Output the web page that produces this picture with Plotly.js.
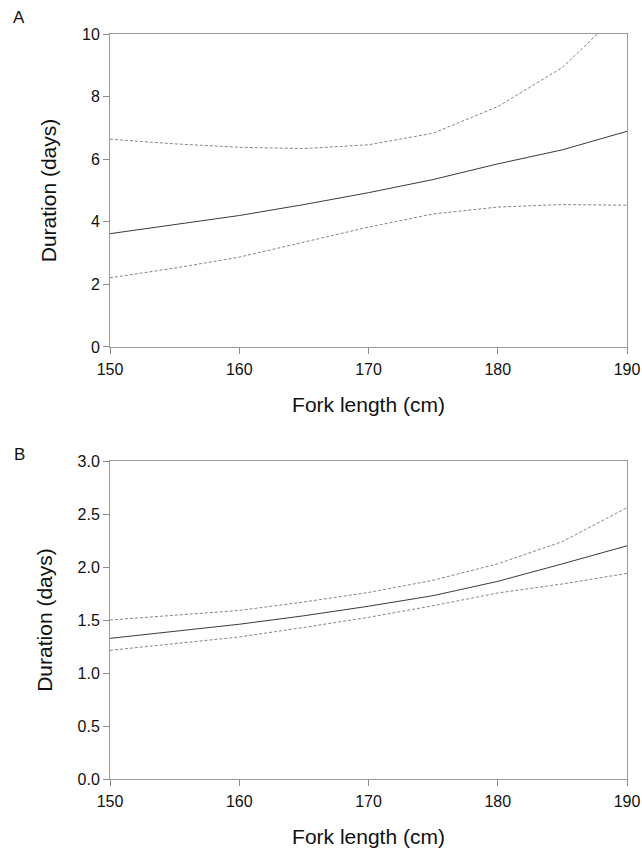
<!DOCTYPE html>
<html>
<head>
<meta charset="utf-8">
<script src="https://cdn.plot.ly/plotly-3.0.1.min.js"></script>
<style>html,body{margin:0;padding:0;background:#fff;}#chart{width:642px;height:851px;}</style>
</head>
<body>
<div id="chart"></div>
<script>
// Fork length (cm)
const forkLength = [150, 155, 160, 165, 170, 175, 180, 185, 190];

// Panel A: duration (days)
const aMean  = [3.62, 3.90, 4.20, 4.55, 4.93, 5.35, 5.85, 6.30, 6.89];
const aUpper = [6.64, 6.49, 6.38, 6.34, 6.46, 6.83, 7.68, 8.93, 10.91];
const aLower = [2.21, 2.52, 2.87, 3.36, 3.83, 4.25, 4.47, 4.55, 4.53];

// Panel B: duration (days)
const bMean  = [1.327, 1.39, 1.46, 1.54, 1.63, 1.73, 1.865, 2.03, 2.20];
const bUpper = [1.50, 1.545, 1.59, 1.67, 1.76, 1.875, 2.03, 2.24, 2.56];
const bLower = [1.214, 1.275, 1.34, 1.43, 1.525, 1.635, 1.755, 1.84, 1.94];

const xTicks = [150, 160, 170, 180, 190];
const aYTicks = [0, 2, 4, 6, 8, 10];
const bYTicks = [0, 0.5, 1.0, 1.5, 2.0, 2.5, 3.0];

const panelLabels = ["A", "B"];
const xTitle = "Fork length (cm)";
const yTitle = "Duration (days)";

const FONT = "Liberation Sans, Arial, sans-serif";
const solid = {color: "#3a3a3a", width: 1};
const dashed = {color: "#858585", width: 1, dash: "3px,2px"};

const traces = [
  {x: forkLength, y: aUpper, xaxis: "x", yaxis: "y", mode: "lines", line: dashed},
  {x: forkLength, y: aMean,  xaxis: "x", yaxis: "y", mode: "lines", line: solid},
  {x: forkLength, y: aLower, xaxis: "x", yaxis: "y", mode: "lines", line: dashed},
  {x: forkLength, y: bUpper, xaxis: "x2", yaxis: "y2", mode: "lines", line: dashed},
  {x: forkLength, y: bMean,  xaxis: "x2", yaxis: "y2", mode: "lines", line: solid},
  {x: forkLength, y: bLower, xaxis: "x2", yaxis: "y2", mode: "lines", line: dashed}
];

function xAxis(anchor) {
  return {
    anchor: anchor, range: [150, 190], tickvals: xTicks,
    showline: true, mirror: true, linecolor: "#9a9a9a", linewidth: 1,
    ticks: "outside", ticklen: 6, tickcolor: "#8a8a8a", tickwidth: 1,
    ticklabelstandoff: 2,
    showgrid: false, zeroline: false,
    tickfont: {family: FONT, size: 16, color: "#111"},
    title: {text: xTitle, font: {family: FONT, size: 21, color: "#111"}, standoff: 20}
  };
}
function yAxis(anchor, domain, range, ticks, fmt) {
  return {
    anchor: anchor, domain: domain, range: range, tickvals: ticks, tickformat: fmt,
    showline: true, mirror: true, linecolor: "#9a9a9a", linewidth: 1,
    ticks: "outside", ticklen: 6, tickcolor: "#8a8a8a", tickwidth: 1,
    showgrid: false, zeroline: false,
    tickfont: {family: FONT, size: 16, color: "#111"},
    title: {text: yTitle, font: {family: FONT, size: 21, color: "#111"}, standoff: 19}
  };
}

const layout = {
  width: 642, height: 851,
  margin: {l: 109.5, r: 14.5, t: 34, b: 72},
  paper_bgcolor: "#fff", plot_bgcolor: "#fff",
  showlegend: false,
  xaxis: xAxis("y"),
  yaxis: yAxis("x", [0.5799, 1], [0, 10], aYTicks, "d"),
  xaxis2: xAxis("y2"),
  yaxis2: yAxis("x2", [0, 0.4268], [0, 3], bYTicks, ".1f"),
  annotations: [
    {text: panelLabels[0], xref: "paper", yref: "paper", x: -0.176, y: 1.0215,
     showarrow: false, xanchor: "center", yanchor: "middle", font: {family: FONT, size: 17, color: "#111"}},
    {text: panelLabels[1], xref: "paper", yref: "paper", x: -0.176, y: 0.4349,
     showarrow: false, xanchor: "center", yanchor: "middle", font: {family: FONT, size: 17, color: "#111"}}
  ]
};

Plotly.newPlot("chart", traces, layout, {displayModeBar: false, staticPlot: true});
</script>
</body>
</html>
